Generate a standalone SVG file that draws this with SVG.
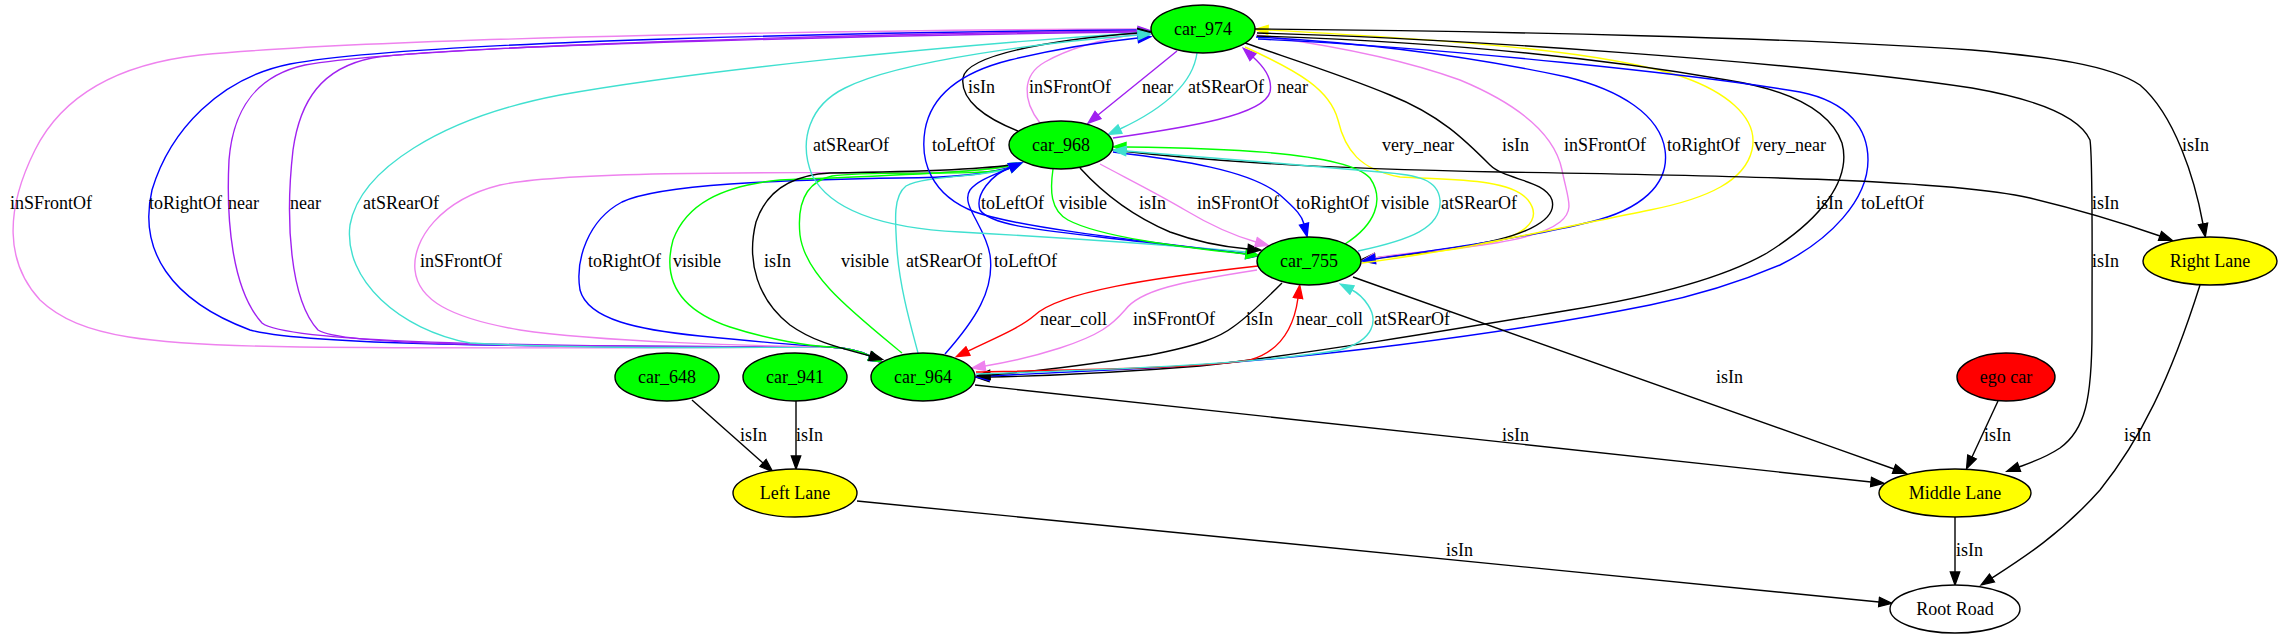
<svg xmlns="http://www.w3.org/2000/svg" width="2283" height="639" viewBox="0 0 2283 639">
<style>
.e{fill:none;stroke-width:1.4}
.k{stroke:#000}.b{stroke:#0000ff}.v{stroke:#ee82ee}.p{stroke:#a020f0}.t{stroke:#40e0d0}.g{stroke:#00ff00}.r{stroke:#ff0000}.y{stroke:#ffff00}
.n{stroke:#000;stroke-width:1.4}
text{font-family:"Liberation Serif","Times New Roman",serif;font-size:18px;fill:#000}
.c{text-anchor:middle}
</style>
<defs>
<marker id="mk" viewBox="-1 -6 16 12" refX="0" refY="0" markerWidth="16" markerHeight="12" markerUnits="userSpaceOnUse" orient="auto-start-reverse"><path d="M0,-4.7L13,0L0,4.7Z" fill="#000" stroke="#000" stroke-width="1.3"/></marker>
<marker id="mb" viewBox="-1 -6 16 12" refX="0" refY="0" markerWidth="16" markerHeight="12" markerUnits="userSpaceOnUse" orient="auto-start-reverse"><path d="M0,-4.7L13,0L0,4.7Z" fill="#0000ff" stroke="#0000ff" stroke-width="1.3"/></marker>
<marker id="mv" viewBox="-1 -6 16 12" refX="0" refY="0" markerWidth="16" markerHeight="12" markerUnits="userSpaceOnUse" orient="auto-start-reverse"><path d="M0,-4.7L13,0L0,4.7Z" fill="#ee82ee" stroke="#ee82ee" stroke-width="1.3"/></marker>
<marker id="mp" viewBox="-1 -6 16 12" refX="0" refY="0" markerWidth="16" markerHeight="12" markerUnits="userSpaceOnUse" orient="auto-start-reverse"><path d="M0,-4.7L13,0L0,4.7Z" fill="#a020f0" stroke="#a020f0" stroke-width="1.3"/></marker>
<marker id="mt" viewBox="-1 -6 16 12" refX="0" refY="0" markerWidth="16" markerHeight="12" markerUnits="userSpaceOnUse" orient="auto-start-reverse"><path d="M0,-4.7L13,0L0,4.7Z" fill="#40e0d0" stroke="#40e0d0" stroke-width="1.3"/></marker>
<marker id="mg" viewBox="-1 -6 16 12" refX="0" refY="0" markerWidth="16" markerHeight="12" markerUnits="userSpaceOnUse" orient="auto-start-reverse"><path d="M0,-4.7L13,0L0,4.7Z" fill="#00ff00" stroke="#00ff00" stroke-width="1.3"/></marker>
<marker id="mr" viewBox="-1 -6 16 12" refX="0" refY="0" markerWidth="16" markerHeight="12" markerUnits="userSpaceOnUse" orient="auto-start-reverse"><path d="M0,-4.7L13,0L0,4.7Z" fill="#ff0000" stroke="#ff0000" stroke-width="1.3"/></marker>
<marker id="my" viewBox="-1 -6 16 12" refX="0" refY="0" markerWidth="16" markerHeight="12" markerUnits="userSpaceOnUse" orient="auto-start-reverse"><path d="M0,-4.7L13,0L0,4.7Z" fill="#ffff00" stroke="#ffff00" stroke-width="1.3"/></marker>
</defs>
<rect width="2283" height="639" fill="#fff"/>
<g id="edges">
<!-- group A: car_974 <-> car_964 around left -->
<path class="e v" marker-end="url(#mv)" d="M1138,29 C900,30 400,36 200,55 C110,65 60,100 35,150 C5,210 5,262 40,300 C80,338 150,345 300,347 C500,349 780,347 830,347 C850,348 860,351 870,356"/>
<path class="e b" marker-end="url(#mb)" d="M1138,30 C900,32 420,40 290,64 C220,78 170,130 152,190 C138,250 170,300 250,330 C320,348 600,346 830,347 C850,348 860,351 870,356"/>
<path class="e p" marker-start="url(#mp)" d="M1138,31 C900,33 420,45 305,65 C255,76 233,110 229,160 C226,220 232,290 262,323 C285,342 500,347 830,347 C850,348 860,351 870,356"/>
<path class="e p" marker-end="url(#mp)" d="M1138,32 C900,35 460,45 372,58 C322,68 300,100 293,150 C285,220 290,300 318,330 C340,345 500,347 830,347 C850,348 860,351 870,356"/>
<path class="e t" marker-start="url(#mt)" d="M1138,33 C950,45 700,70 560,95 C440,118 360,170 350,225 C343,280 400,330 470,343 C600,350 780,347 830,347 C850,348 860,351 870,356"/>
<!-- group B: car_968 <-> car_964 -->
<path class="e v" marker-end="url(#mv)" d="M1015,165 C985,171 950,173 900,173 C750,172 560,172 500,185 C440,200 412,240 415,270 C418,300 450,318 520,330 C600,342 760,346 830,347 C850,348 860,351 870,356"/>
<path class="e b" marker-end="url(#mb)" d="M1015,166 C985,175 950,178 900,178 C780,180 660,184 622,202 C588,220 575,260 580,290 C588,320 640,330 700,336 C760,342 810,346 830,347 C850,348 860,351 870,356"/>
<path class="e g" marker-end="url(#mg)" d="M1015,165 C985,172 900,175 780,180 C720,186 686,205 673,240 C662,280 680,310 730,327 C770,340 810,346 830,347 C850,348 860,351 870,356"/>
<path class="e k" marker-end="url(#mk)" d="M1015,164 C985,170 900,172 830,173 C790,175 766,192 756,222 C746,262 758,300 790,325 C815,343 845,349 870,356"/>
<path class="e g" marker-start="url(#mg)" d="M1010,168 C990,177 870,170 832,176 C805,182 797,205 800,235 C805,275 850,310 902,353"/>
<path class="e t" marker-start="url(#mt)" d="M1010,168 C990,177 925,175 906,186 C893,196 895,220 897,250 C900,290 912,330 918,353"/>
<path class="e b" marker-end="url(#mb)" d="M945,354 C975,320 995,290 990,255 C985,225 960,205 970,190 C978,180 992,176 1010,168"/>
<!-- car_974 <-> car_968 -->
<path class="e p" marker-end="url(#mp)" d="M1177,51 C1150,73 1120,97 1098,115"/>
<path class="e t" marker-end="url(#mt)" d="M1197,53 C1193,82 1165,108 1120,129"/>
<path class="e p" marker-end="url(#mp)" d="M1113,138 C1190,127 1264,115 1270,92 C1273,78 1262,65 1253,57"/>
<path class="e v" marker-end="url(#mv)" d="M1040,123 C1022,100 1022,75 1045,62 C1075,45 1110,38 1138,34"/>
<path class="e k" marker-end="url(#mk)" d="M1018,131 C985,118 960,100 963,78 C966,55 1050,40 1138,33"/>
<!-- car_755 -> car_974 left side -->
<path class="e b" marker-end="url(#mb)" d="M1257,255 C1150,242 1020,228 975,212 C930,195 920,160 925,130 C932,90 970,70 1010,60 C1060,48 1100,42 1138,38"/>
<path class="e t" marker-end="url(#mt)" d="M1256,253 C1150,243 1030,236 960,232 C880,228 830,210 812,175 C798,140 810,105 845,88 C900,60 1050,42 1138,35"/>
<!-- car_974 <-> car_755 right side -->
<path class="e y" marker-end="url(#my)" d="M1245,47 C1300,72 1330,90 1338,120 C1345,150 1360,170 1400,177 C1450,180 1510,178 1528,200 C1545,222 1520,238 1480,245 C1440,252 1400,256 1375,259"/>
<path class="e k" marker-end="url(#mk)" d="M1245,43 C1300,62 1350,78 1390,95 C1440,115 1465,140 1490,165 C1505,180 1545,180 1552,200 C1558,222 1520,238 1460,247 C1420,253 1395,256 1375,258"/>
<path class="e v" marker-end="url(#mv)" d="M1256,35 C1330,45 1400,58 1460,80 C1520,105 1555,135 1562,170 C1568,200 1575,210 1560,222 C1540,238 1490,245 1440,250 C1410,253 1390,255 1375,258"/>
<path class="e b" marker-end="url(#mb)" d="M1256,37 C1350,42 1450,52 1567,77 C1620,90 1660,115 1665,150 C1670,185 1640,210 1590,222 C1540,235 1450,248 1375,259"/>
<path class="e y" marker-end="url(#my)" d="M1362,263 C1450,252 1550,230 1650,210 C1710,198 1745,180 1752,150 C1760,115 1720,90 1683,77 C1600,50 1450,40 1268,30"/>
<!-- car_974 -> lanes / car_964 -->
<path class="e k" marker-end="url(#mk)" d="M1255,29 C1500,31 1800,38 1972,50 C2050,57 2110,65 2140,85 C2175,115 2195,180 2203,224"/>
<path class="e k" marker-end="url(#mk)" d="M1257,33 C1450,38 1800,62 1972,88 C2040,100 2080,118 2090,140 C2093,160 2092,250 2092,330 C2092,400 2085,430 2060,448 C2045,458 2030,463 2019,467"/>
<path class="e k" marker-end="url(#mk)" d="M1257,36 C1450,42 1600,58 1727,80 C1790,90 1830,110 1842,143 C1852,180 1820,220 1767,253 C1720,280 1650,297 1570,310 C1450,330 1300,355 1200,366 C1100,374 1040,376 989,377"/>
<path class="e b" marker-end="url(#mb)" d="M1258,39 C1450,48 1700,75 1800,92 C1850,102 1868,130 1868,160 C1868,200 1830,240 1780,265 C1740,282 1700,295 1650,305 C1500,335 1300,360 1150,368 C1070,372 1020,374 989,376"/>
<!-- car_968 -> Right Lane -->
<path class="e k" marker-end="url(#mk)" d="M1112,150 C1200,160 1300,168 1500,172 C1750,176 1950,180 2030,198 C2080,210 2120,222 2160,236"/>
<!-- car_968 <-> car_755 -->
<path class="e b" marker-end="url(#mb)" d="M1013,166 C990,175 975,195 980,210 C990,225 1040,230 1100,237 C1160,244 1210,249 1246,254"/>
<path class="e g" marker-end="url(#mg)" d="M1053,169 C1050,190 1050,210 1068,220 C1100,237 1180,247 1246,254"/>
<path class="e k" marker-end="url(#mk)" d="M1080,168 C1100,190 1130,215 1170,232 C1200,243 1225,247 1248,249"/>
<path class="e v" marker-end="url(#mv)" d="M1100,164 C1130,180 1160,195 1185,210 C1210,225 1235,236 1256,242"/>
<path class="e b" marker-end="url(#mb)" d="M1113,152 C1180,160 1250,170 1280,195 C1297,210 1302,216 1304,224"/>
<path class="e g" marker-end="url(#mg)" d="M1345,244 C1375,225 1385,200 1370,178 C1345,150 1200,148 1126,147"/>
<path class="e t" marker-end="url(#mt)" d="M1358,251 C1410,240 1442,228 1440,200 C1438,180 1420,175 1380,172 C1300,165 1180,155 1126,151"/>
<!-- car_755 <-> car_964 -->
<path class="e r" marker-end="url(#mr)" d="M1258,266 C1150,278 1060,292 1035,315 C1020,328 995,338 968,351"/>
<path class="e v" marker-end="url(#mv)" d="M1257,270 C1180,282 1140,290 1125,310 C1112,325 1100,335 1060,348 C1035,356 1010,362 985,366"/>
<path class="e k" marker-end="url(#mk)" d="M1282,283 C1265,300 1250,315 1233,327 C1220,337 1200,345 1150,355 C1080,366 1030,372 990,375"/>
<path class="e r" marker-end="url(#mr)" d="M976,372 C1080,370 1200,368 1250,360 C1285,350 1295,320 1298,298"/>
<path class="e t" marker-end="url(#mt)" d="M976,374 C1100,370 1250,365 1340,350 C1375,340 1378,320 1368,305 C1362,296 1356,292 1352,290"/>
<!-- lanes -->
<path class="e k" marker-end="url(#mk)" d="M1353,277 C1500,330 1700,400 1894,469"/>
<path class="e k" marker-end="url(#mk)" d="M975,385 L1871,482"/>
<path class="e k" marker-end="url(#mk)" d="M857,501 L1879,602"/>
<path class="e k" marker-end="url(#mk)" d="M692,400 L763,463"/>
<path class="e k" marker-end="url(#mk)" d="M796,401 L796,456"/>
<path class="e k" marker-end="url(#mk)" d="M1998,401 L1972,457"/>
<path class="e k" marker-end="url(#mk)" d="M1955,517 L1955,572"/>
<path class="e k" marker-end="url(#mk)" d="M2200,285 C2170,380 2140,440 2100,490 C2060,535 2020,560 1992,578"/>
</g>
<g id="edge-labels">
<text x="968" y="93">isIn</text>
<text x="1029" y="93">inSFrontOf</text>
<text x="1142" y="93">near</text>
<text x="1188" y="93">atSRearOf</text>
<text x="1277" y="93">near</text>
<text x="813" y="151">atSRearOf</text>
<text x="932" y="151">toLeftOf</text>
<text x="1382" y="151">very_near</text>
<text x="1502" y="151">isIn</text>
<text x="1564" y="151">inSFrontOf</text>
<text x="1667" y="151">toRightOf</text>
<text x="1754" y="151">very_near</text>
<text x="2182" y="151">isIn</text>
<text x="10" y="209">inSFrontOf</text>
<text x="149" y="209">toRightOf</text>
<text x="228" y="209">near</text>
<text x="290" y="209">near</text>
<text x="363" y="209">atSRearOf</text>
<text x="981" y="209">toLeftOf</text>
<text x="1059" y="209">visible</text>
<text x="1139" y="209">isIn</text>
<text x="1197" y="209">inSFrontOf</text>
<text x="1296" y="209">toRightOf</text>
<text x="1381" y="209">visible</text>
<text x="1441" y="209">atSRearOf</text>
<text x="1816" y="209">isIn</text>
<text x="1861" y="209">toLeftOf</text>
<text x="2092" y="209">isIn</text>
<text x="420" y="267">inSFrontOf</text>
<text x="588" y="267">toRightOf</text>
<text x="673" y="267">visible</text>
<text x="764" y="267">isIn</text>
<text x="841" y="267">visible</text>
<text x="906" y="267">atSRearOf</text>
<text x="994" y="267">toLeftOf</text>
<text x="2092" y="267">isIn</text>
<text x="1040" y="325">near_coll</text>
<text x="1133" y="325">inSFrontOf</text>
<text x="1246" y="325">isIn</text>
<text x="1296" y="325">near_coll</text>
<text x="1374" y="325">atSRearOf</text>
<text x="1716" y="383">isIn</text>
<text x="740" y="441">isIn</text>
<text x="796" y="441">isIn</text>
<text x="1502" y="441">isIn</text>
<text x="1984" y="441">isIn</text>
<text x="2124" y="441">isIn</text>
<text x="1446" y="556">isIn</text>
<text x="1956" y="556">isIn</text>
</g>
<g id="car_974"><ellipse class="n" cx="1203" cy="29" rx="52" ry="24" fill="#00ff00"/><text class="c" x="1203" y="35">car_974</text></g>
<g id="car_968"><ellipse class="n" cx="1061" cy="145" rx="52" ry="24" fill="#00ff00"/><text class="c" x="1061" y="151">car_968</text></g>
<g id="car_755"><ellipse class="n" cx="1309" cy="261" rx="52" ry="24" fill="#00ff00"/><text class="c" x="1309" y="267">car_755</text></g>
<g id="car_964"><ellipse class="n" cx="923" cy="377" rx="52" ry="24" fill="#00ff00"/><text class="c" x="923" y="383">car_964</text></g>
<g id="car_648"><ellipse class="n" cx="667" cy="377" rx="52" ry="24" fill="#00ff00"/><text class="c" x="667" y="383">car_648</text></g>
<g id="car_941"><ellipse class="n" cx="795" cy="377" rx="52" ry="24" fill="#00ff00"/><text class="c" x="795" y="383">car_941</text></g>
<g id="ego_car"><ellipse class="n" cx="2006" cy="377" rx="49" ry="24" fill="#ff0000"/><text class="c" x="2006" y="383">ego car</text></g>
<g id="right_lane"><ellipse class="n" cx="2210" cy="261" rx="67" ry="24" fill="#ffff00"/><text class="c" x="2210" y="267">Right Lane</text></g>
<g id="left_lane"><ellipse class="n" cx="795" cy="493" rx="62" ry="24" fill="#ffff00"/><text class="c" x="795" y="499">Left Lane</text></g>
<g id="middle_lane"><ellipse class="n" cx="1955" cy="493" rx="76" ry="24" fill="#ffff00"/><text class="c" x="1955" y="499">Middle Lane</text></g>
<g id="root_road"><ellipse class="n" cx="1955" cy="609" rx="65" ry="24" fill="#ffffff"/><text class="c" x="1955" y="615">Root Road</text></g>
</svg>
